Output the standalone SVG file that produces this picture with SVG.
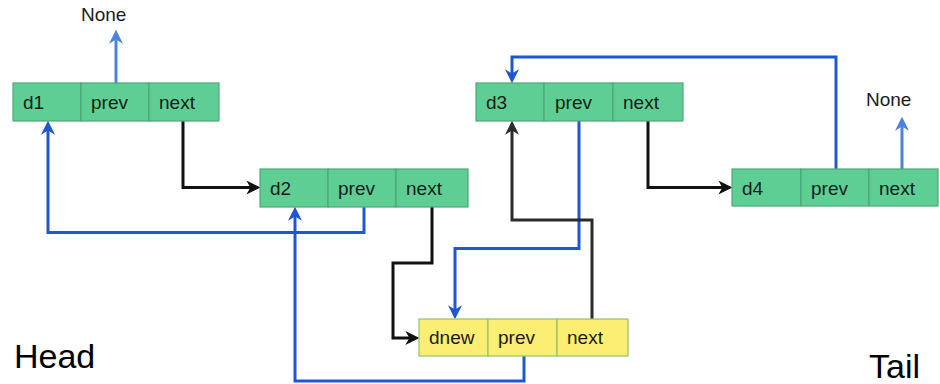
<svg xmlns="http://www.w3.org/2000/svg" width="940" height="384" viewBox="0 0 940 384">
<defs>
<style>
.cell{fill:#5fce94;stroke:#4aa974;stroke-width:1.2}
.ycell{fill:#fbee72;stroke:#8fc46a;stroke-width:1.2}
.t{font-family:"Liberation Sans",Arial,sans-serif;font-size:19px;fill:#1b1b1b}
.big{font-family:"Liberation Sans",Arial,sans-serif;font-size:34px;fill:#000}
.c{fill:none;stroke-width:3;stroke-linejoin:miter}
.k{stroke:#111}
.g{stroke:#2b2b2b}
.b{stroke:#1f57cf}
.lb{stroke:#4a84dd}
</style>
<marker id="ak" markerUnits="userSpaceOnUse" markerWidth="14" markerHeight="14" viewBox="0 0 12 12" refX="4" refY="6" orient="auto"><path d="M0,0 L12,6 L0,12 L3.5,6 z" fill="#111"/></marker>
<marker id="ag" markerUnits="userSpaceOnUse" markerWidth="14" markerHeight="14" viewBox="0 0 12 12" refX="4" refY="6" orient="auto"><path d="M0,0 L12,6 L0,12 L3.5,6 z" fill="#2b2b2b"/></marker>
<marker id="ab" markerUnits="userSpaceOnUse" markerWidth="14" markerHeight="14" viewBox="0 0 12 12" refX="4" refY="6" orient="auto"><path d="M0,0 L12,6 L0,12 L3.5,6 z" fill="#1f57cf"/></marker>
<marker id="alb" markerUnits="userSpaceOnUse" markerWidth="14" markerHeight="14" viewBox="0 0 12 12" refX="4" refY="6" orient="auto"><path d="M0,0 L12,6 L0,12 L3.5,6 z" fill="#4a84dd"/></marker>
</defs>
<rect width="940" height="384" fill="#fff"/>

<g id="connectors">
<path class="c lb" d="M116,83 V39" marker-end="url(#alb)"/>
<path class="c k" d="M183,121 V187.5 H251" marker-end="url(#ak)"/>
<path class="c b" d="M364,207 V232.5 H48 V130" marker-end="url(#ab)"/>
<path class="c k" d="M432,207 V263 H393 V338 H410" marker-end="url(#ak)"/>
<path class="c b" d="M524,356 V381 H295 V216" marker-end="url(#ab)"/>
<path class="c b" d="M579,121 V248.5 H455 V310" marker-end="url(#ab)"/>
<path class="c g" d="M592,319 V220 H512 V130" marker-end="url(#ag)"/>
<path class="c k" d="M648,121 V187.5 H723" marker-end="url(#ak)"/>
<path class="c b" d="M836,169 V57 H512 V74" marker-end="url(#ab)"/>
<path class="c lb" d="M902,169 V126" marker-end="url(#alb)"/>
</g>

<g id="d1">
<rect class="cell" x="13" y="83" width="68" height="38"/>
<rect class="cell" x="81" y="83" width="68" height="38"/>
<rect class="cell" x="149" y="83" width="70" height="38"/>
<text class="t" x="23" y="109">d1</text>
<text class="t" x="91" y="109">prev</text>
<text class="t" x="159" y="109">next</text>
</g>

<g id="d2">
<rect class="cell" x="260" y="169" width="68" height="38"/>
<rect class="cell" x="328" y="169" width="68" height="38"/>
<rect class="cell" x="396" y="169" width="72" height="38"/>
<text class="t" x="270" y="195">d2</text>
<text class="t" x="338" y="195">prev</text>
<text class="t" x="406" y="195">next</text>
</g>

<g id="dnew">
<rect class="ycell" x="419" y="319" width="69" height="37"/>
<rect class="ycell" x="488" y="319" width="69" height="37"/>
<rect class="ycell" x="557" y="319" width="71" height="37"/>
<text class="t" x="429" y="344">dnew</text>
<text class="t" x="498" y="344">prev</text>
<text class="t" x="567" y="344">next</text>
</g>

<g id="d3">
<rect class="cell" x="476" y="83" width="68" height="38"/>
<rect class="cell" x="544" y="83" width="69" height="38"/>
<rect class="cell" x="613" y="83" width="70" height="38"/>
<text class="t" x="486" y="109">d3</text>
<text class="t" x="555" y="109">prev</text>
<text class="t" x="623" y="109">next</text>
</g>

<g id="d4">
<rect class="cell" x="732" y="169" width="69" height="37"/>
<rect class="cell" x="801" y="169" width="68" height="37"/>
<rect class="cell" x="869" y="169" width="69" height="37"/>
<text class="t" x="742" y="195">d4</text>
<text class="t" x="811" y="195">prev</text>
<text class="t" x="879" y="195">next</text>
</g>

<g id="labels">
<text class="t" x="81" y="21">None</text>
<text class="t" x="866" y="106">None</text>
<text class="big" x="14" y="368">Head</text>
<text class="big" x="869" y="378">Tail</text>
</g>
</svg>
